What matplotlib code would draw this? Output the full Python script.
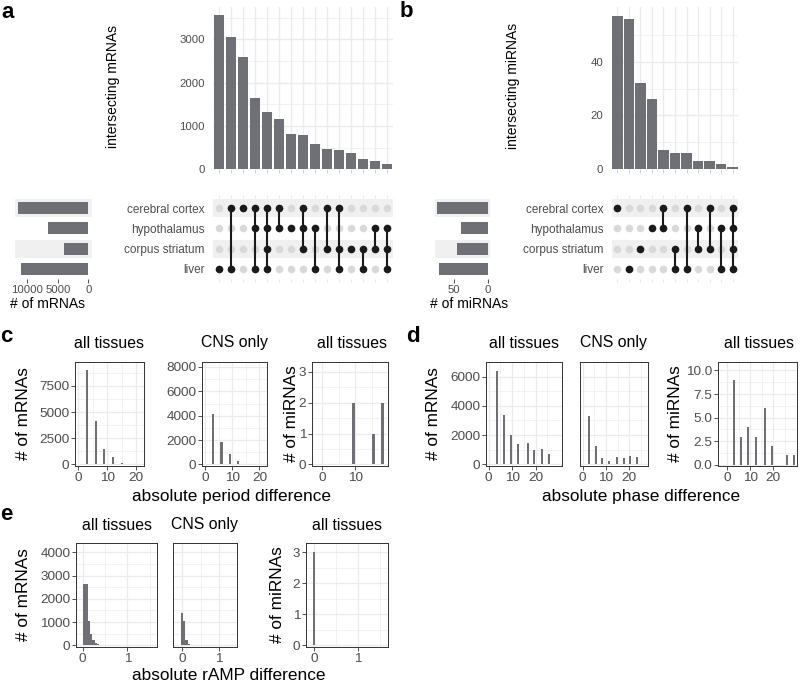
import matplotlib
matplotlib.use('Agg')
import matplotlib.pyplot as plt

plt.rcParams['font.family'] = ['Liberation Sans', 'DejaVu Sans']

# ---------------- data ----------------
sets = ['cerebral cortex', 'hypothalamus', 'corpus striatum', 'liver']

a_counts = [3560, 3055, 2590, 1655, 1325, 1160, 815, 780, 585, 478, 455, 368, 238, 185, 123]
a_combos = [
    ['liver'],
    ['cerebral cortex', 'liver'],
    ['cerebral cortex'],
    ['cerebral cortex', 'hypothalamus', 'liver'],
    ['cerebral cortex', 'hypothalamus', 'corpus striatum', 'liver'],
    ['cerebral cortex', 'hypothalamus'],
    ['hypothalamus'],
    ['cerebral cortex', 'hypothalamus', 'corpus striatum'],
    ['hypothalamus', 'liver'],
    ['cerebral cortex', 'corpus striatum'],
    ['cerebral cortex', 'corpus striatum', 'liver'],
    ['corpus striatum'],
    ['corpus striatum', 'liver'],
    ['hypothalamus', 'corpus striatum'],
    ['hypothalamus', 'corpus striatum', 'liver'],
]
a_set_sizes = [11480, 6560, 3990, 11030]

b_counts = [57, 56, 32, 26, 7, 6, 6, 3, 3, 2, 1]
b_combos = [
    ['cerebral cortex'],
    ['liver'],
    ['corpus striatum'],
    ['hypothalamus'],
    ['cerebral cortex', 'hypothalamus'],
    ['corpus striatum', 'liver'],
    ['cerebral cortex', 'liver'],
    ['hypothalamus', 'corpus striatum'],
    ['cerebral cortex', 'corpus striatum'],
    ['hypothalamus', 'liver'],
    ['cerebral cortex', 'hypothalamus', 'corpus striatum', 'liver'],
]
b_set_sizes = [75, 40, 45, 72]

# c: absolute period difference
c_mrna_all_x = [3, 6, 9, 12, 15, 18]
c_mrna_all_y = [9040, 4170, 1510, 675, 160, 65]
c_mrna_cns_x = [3, 6, 9, 12, 15]
c_mrna_cns_y = [4165, 1835, 850, 250, 50]
c_mirna_x = [9.5, 15.5, 18.2]
c_mirna_y = [2, 1, 2]

# d: absolute phase difference
d_mrna_all_x = [3.4, 6.5, 9.4, 12.5, 16.6, 19.4, 22.6, 25.7, 28.6]
d_mrna_all_y = [6345, 3350, 1990, 1420, 1470, 960, 1040, 720, 50]
d_mrna_cns_x = [2.9, 5.7, 8.3, 11.2, 14.7, 17.6, 20.3, 23.3]
d_mrna_cns_y = [3290, 1270, 420, 240, 475, 410, 590, 475]
d_mirna_x = [2.9, 6.1, 9.1, 12.3, 16.5, 19.6, 25.8, 29.0]
d_mirna_y = [9, 3, 4, 3, 6, 2, 1, 1]

# e: absolute rAMP difference
e_mrna_all_x = [0.024, 0.08, 0.135, 0.189, 0.242, 0.295, 0.347, 0.40, 0.452]
e_mrna_all_y = [2630, 2650, 1030, 500, 240, 110, 60, 30, 10]
e_mrna_cns_x = [-0.01, 0.05, 0.112, 0.175, 0.235]
e_mrna_cns_y = [1380, 1030, 230, 65, 10]
e_mirna_x = [0.0]
e_mirna_y = [3]

# ---------------- style ----------------
W, H = 800, 685
fig = plt.figure(figsize=(8, 6.85), dpi=100)

BAR = '#6f7075'
TXT = '#4d4d4d'
GRID = '#ebebeb'
BAND = '#f0f0f0'
DOT_ON = '#1a1a1a'
DOT_OFF = '#d9d9d9'


def add_ax(x0, y0, x1, y1):
    return fig.add_axes([x0 / W, 1 - y1 / H, (x1 - x0) / W, (y1 - y0) / H])


def ftext(x, y, s, **kw):
    fig.text(x / W, 1 - y / H, s, **kw)


def upset(counts, combos, set_sizes, top_x0, top_x1, top_ylim, top_ticks, top_minor,
          ylabel, ylabel_x, set_x0, set_x1, set_xlim, set_ticks, set_ticklabels,
          set_xlabel, set_xlabel_x):
    n = len(counts)
    xs = list(range(n))
    xlim = (-0.5, n - 0.5)
    # top bars
    ax = add_ax(top_x0, 6.7, top_x1, 169.3)
    ax.bar(xs, counts, width=0.9, color=BAR, zorder=2)
    ax.set_xlim(*xlim)
    ax.set_ylim(*top_ylim)
    ax.set_xticks(xs)
    ax.set_xticklabels([])
    ax.set_yticks(top_ticks)
    ax.set_yticks(top_minor, minor=True)
    ax.grid(True, which='major', color=GRID, lw=1.0)
    ax.grid(True, which='minor', axis='y', color=GRID, lw=0.5)
    ax.set_axisbelow(True)
    for s in ax.spines.values():
        s.set_visible(False)
    ax.tick_params(axis='y', which='both', length=0, labelsize=8.2, labelcolor=TXT, pad=6)
    ax.tick_params(axis='x', which='major', length=3, width=0.5, color='#bbbbbb')
    ax.tick_params(axis='x', which='minor', length=0)
    ftext(ylabel_x, 86, ylabel, rotation=90, ha='center', va='center', fontsize=10)

    # matrix
    rows = {s: 3 - i for i, s in enumerate(sets)}
    mx = add_ax(top_x0, 197.9, top_x1, 279.1)
    mx.set_xlim(*xlim)
    mx.set_ylim(-0.5, 3.5)
    for i, s in enumerate(sets):
        if i % 2 == 0:
            mx.axhspan(rows[s] - 0.45, rows[s] + 0.45, color=BAND, zorder=0, lw=0)
    for xi, combo in zip(xs, combos):
        mx.scatter([xi] * 4, [0, 1, 2, 3], s=30, color=DOT_OFF, zorder=2, lw=0)
        ys = [rows[s] for s in combo]
        if len(ys) > 1:
            mx.plot([xi, xi], [min(ys), max(ys)], color=DOT_ON, lw=1.5, zorder=3)
        mx.scatter([xi] * len(ys), ys, s=30, color=DOT_ON, zorder=4, lw=0)
    mx.set_yticks([rows[s] for s in sets])
    mx.set_yticklabels(sets)
    mx.set_xticks(xs)
    mx.set_xticklabels([])
    mx.tick_params(axis='y', length=0, labelsize=8.5, labelcolor=TXT, pad=6)
    mx.tick_params(axis='x', length=2, width=0.5, color='#dddddd', top=True, bottom=True)
    for s in mx.spines.values():
        s.set_visible(False)

    # set sizes
    sx = add_ax(set_x0, 197.9, set_x1, 279.1)
    sx.set_ylim(-0.5, 3.5)
    sx.set_xlim(*set_xlim)
    for i, s in enumerate(sets):
        if i % 2 == 0:
            sx.axhspan(rows[s] - 0.45, rows[s] + 0.45, color=BAND, zorder=0, lw=0)
    sx.barh([rows[s] for s in sets], set_sizes, height=0.6, color=BAR, zorder=2)
    sx.set_yticks([])
    sx.set_xticks(set_ticks)
    sx.set_xticklabels(set_ticklabels)
    sx.tick_params(axis='x', length=3, width=0.6, color='#333333', labelsize=8.2,
                   labelcolor=TXT, pad=1.5)
    for s in sx.spines.values():
        s.set_visible(False)
    ftext(set_xlabel_x, 304, set_xlabel, ha='center', va='center', fontsize=10)


upset(a_counts, a_combos, a_set_sizes, 213, 393, (0, 3752), [0, 1000, 2000, 3000],
      [500, 1500, 2500, 3500], 'intersecting mRNAs', 113, 15, 92, (12016, -607),
      [10000, 5000, 0], ['10000', '5000', '0'], '# of mRNAs', 47.5)
upset(b_counts, b_combos, b_set_sizes, 611.7, 738.3, (0, 60.4), [0, 20, 40],
      [10, 30, 50], 'intersecting miRNAs', 513, 435, 490, (78.2, -3.4),
      [50, 0], ['50', '0'], '# of miRNAs', 469)


def hist_panel(box, xs, ys, width, xlim, ylim, xticks, xminor, yticks, yticklabels,
               yminor, show_y=True):
    x0, y0, x1, y1 = box
    ax = add_ax(x0, y0, x1, y1)
    ax.bar(xs, ys, width=width, color=BAR, zorder=2, lw=0)
    ax.set_xlim(*xlim)
    ax.set_ylim(*ylim)
    ax.set_xticks(xticks)
    ax.set_xticklabels([('%g' % t) for t in xticks])
    ax.set_xticks(xminor, minor=True)
    ax.set_yticks(yticks)
    ax.set_yticklabels(yticklabels)
    ax.set_yticks(yminor, minor=True)
    ax.grid(True, which='major', color=GRID, lw=0.9)
    ax.grid(True, which='minor', color=GRID, lw=0.45)
    ax.set_axisbelow(True)
    for s in ax.spines.values():
        s.set_color('#333333')
        s.set_linewidth(0.7)
    ax.tick_params(which='minor', length=0)
    ax.tick_params(which='major', length=2.6, width=0.6, color='#333333',
                   labelcolor=TXT, labelsize=9.7, pad=1.5)
    if not show_y:
        ax.tick_params(axis='y', which='major', length=0, labelleft=False)
    return ax


TS = 11.4
LS = 12.4

# ---- c ----
cy0, cy1 = 362, 466
hist_panel((75, cy0, 144, cy1), c_mrna_all_x, c_mrna_all_y, 0.7, (-1.2, 22.8), (-160, 9780),
           [0, 10, 20], [5, 15], [0, 2500, 5000, 7500], ['0', '2500', '5000', '7500'],
           [1250, 3750, 6250, 8750])
hist_panel((202, cy0, 267, cy1), c_mrna_cns_x, c_mrna_cns_y, 0.75, (-1.2, 22.8), (-130, 8410),
           [0, 10, 20], [5, 15], [0, 2000, 4000, 6000, 8000],
           ['0', '2000', '4000', '6000', '8000'], [1000, 3000, 5000, 7000])
hist_panel((312, cy0, 388, cy1), c_mirna_x, c_mirna_y, 0.7, (-3.1, 19.9), (-0.05, 3.31),
           [0, 10], [5, 15], [0, 1, 2, 3], ['0', '1', '2', '3'], [0.5, 1.5, 2.5])
ftext(109.5, 343, 'all tissues', ha='center', va='center', fontsize=TS)
ftext(234.5, 343, 'CNS only', ha='center', va='center', fontsize=TS)
ftext(352, 343, 'all tissues', ha='center', va='center', fontsize=TS)
ftext(24, 414, '# of mRNAs', rotation=90, ha='center', va='center', fontsize=LS)
ftext(291, 414, '# of miRNAs', rotation=90, ha='center', va='center', fontsize=LS)
ftext(232, 496, 'absolute period difference', ha='center', va='center', fontsize=LS)

# ---- d ----
hist_panel((486, cy0, 562, cy1), d_mrna_all_x, d_mrna_all_y, 0.85, (-1.15, 31.2), (-110, 6990),
           [0, 10, 20], [5, 15, 25], [0, 2000, 4000, 6000], ['0', '2000', '4000', '6000'],
           [1000, 3000, 5000])
hist_panel((580, cy0, 648, cy1), d_mrna_cns_x, d_mrna_cns_y, 0.85, (-1.15, 28.0), (-110, 6990),
           [0, 10, 20], [5, 15, 25], [0, 2000, 4000, 6000], ['0', '2000', '4000', '6000'],
           [1000, 3000, 5000], show_y=False)
hist_panel((718, cy0, 797, cy1), d_mirna_x, d_mirna_y, 0.9, (-4.0, 30.3), (-0.12, 10.9),
           [0, 10, 20], [5, 15, 25], [0, 2.5, 5, 7.5, 10], ['0.0', '2.5', '5.0', '7.5', '10.0'],
           [1.25, 3.75, 6.25, 8.75])
ftext(524, 343, 'all tissues', ha='center', va='center', fontsize=TS)
ftext(614, 343, 'CNS only', ha='center', va='center', fontsize=TS)
ftext(759, 343, 'all tissues', ha='center', va='center', fontsize=TS)
ftext(433, 414, '# of mRNAs', rotation=90, ha='center', va='center', fontsize=LS)
ftext(675, 414, '# of miRNAs', rotation=90, ha='center', va='center', fontsize=LS)
ftext(641, 496, 'absolute phase difference', ha='center', va='center', fontsize=LS)

# ---- e ----
ey0, ey1 = 543, 647
hist_panel((76, ey0, 157, ey1), e_mrna_all_x, e_mrna_all_y, 0.054, (-0.15, 1.66), (-75, 4400),
           [0, 1], [0.5, 1.5], [0, 1000, 2000, 3000, 4000],
           ['0', '1000', '2000', '3000', '4000'], [500, 1500, 2500, 3500])
hist_panel((173, ey0, 237, ey1), e_mrna_cns_x, e_mrna_cns_y, 0.06, (-0.26, 1.37), (-75, 4400),
           [0, 1], [0.5, 1.5], [0, 1000, 2000, 3000, 4000],
           ['0', '1000', '2000', '3000', '4000'], [500, 1500, 2500, 3500], show_y=False)
hist_panel((306, ey0, 388, ey1), e_mirna_x, e_mirna_y, 0.06, (-0.18, 1.69), (-0.05, 3.29),
           [0, 1], [0.5, 1.5], [0, 1, 2, 3], ['0', '1', '2', '3'], [0.5, 1.5, 2.5])
ftext(116.5, 525, 'all tissues', ha='center', va='center', fontsize=TS)
ftext(205, 525, 'CNS only', ha='center', va='center', fontsize=TS)
ftext(347, 525, 'all tissues', ha='center', va='center', fontsize=TS)
ftext(23.5, 595, '# of mRNAs', rotation=90, ha='center', va='center', fontsize=LS)
ftext(277, 595, '# of miRNAs', rotation=90, ha='center', va='center', fontsize=LS)
ftext(229, 676, 'absolute rAMP difference', ha='center', va='center', fontsize=LS)

# panel letters
for lab, x, y in [('a', 1, 18), ('b', 400, 17), ('c', 0, 341.5), ('d', 406, 341.5), ('e', 0, 520)]:
    ftext(x, y, lab, ha='left', va='baseline', fontsize=16, fontweight='bold')

fig.savefig('out.png', dpi=100)
